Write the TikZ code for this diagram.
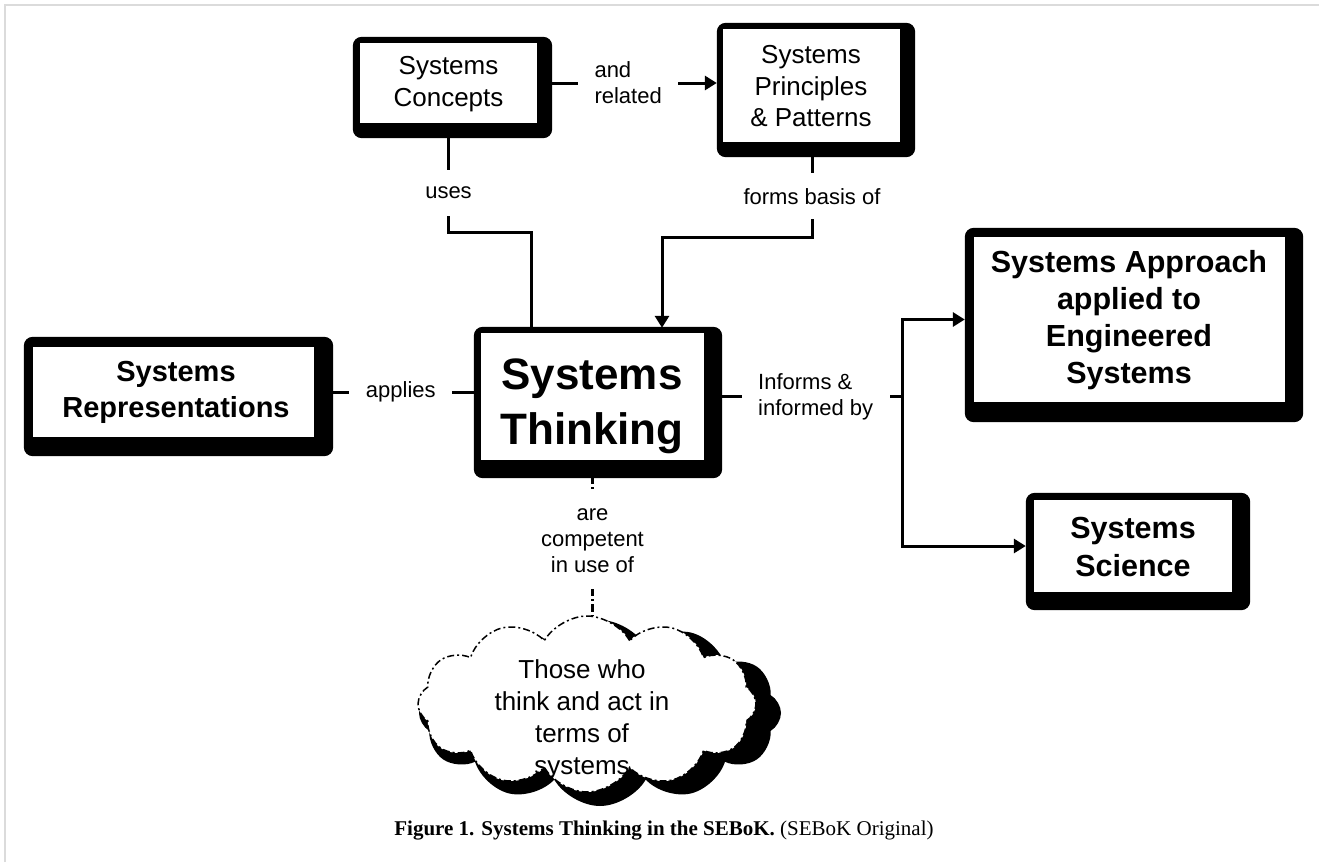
\documentclass[tikz,border=0pt]{standalone}
\usepackage{fontspec}
\setmainfont{Liberation Sans}
\newfontfamily\capfont{Liberation Serif}
\usetikzlibrary{arrows.meta,shapes.symbols,backgrounds,calc}
\begin{document}
\begin{tikzpicture}[x=1pt,y=-1pt,
  inbox/.style={rectangle, fill=white, draw=none, inner sep=0pt},
  boxshade/.style={fill=black, rounded corners=9pt},
  conn/.style={line width=3pt},
  arr/.style={conn, -{Triangle[width=14pt,length=12pt]}},
  lbl/.style={fill=white, font=\fontsize{22}{26}\selectfont, align=center, inner xsep=16.5pt, inner ysep=15pt},
  dd/.style={line width=2.5pt, dash pattern=on 8pt off 3pt on 2pt off 3pt},
  txtreg/.style={font=\fontsize{26}{31.5}\selectfont, align=center, inner sep=0pt},
  txtbold/.style 2 args={font=\bfseries\fontsize{#1}{#2}\selectfont, align=center, inner sep=0pt},
  cloudshape/.style={cloud, cloud puffs=12, cloud puff arc=120, cloud ignores aspect, inner sep=0pt}
]
\useasboundingbox (0,0) rectangle (1319,862);

% frame
\draw[gray!28, line width=1.5pt] (5,862) -- (5,5) -- (1319,5);

% boxes (white inner areas)
\node[inbox, minimum width=177pt, minimum height=80pt] (sc) at (448.5,83) {};
\node[inbox, minimum width=177pt, minimum height=113pt] (spp) at (811.5,85.5) {};
\node[inbox, minimum width=281pt, minimum height=90pt] (sr) at (173.5,392) {};
\node[inbox, minimum width=223pt, minimum height=127pt] (st) at (592.5,396.5) {};
\node[inbox, minimum width=311pt, minimum height=165pt] (sa) at (1129.5,319.5) {};
\node[inbox, minimum width=198pt, minimum height=92pt] (ss) at (1133,546) {};

% heavy frames behind the boxes
\begin{scope}[on background layer]
  \fill[white] (0,0) rectangle (1319,862);
  \fill[boxshade] ([xshift=-7pt,yshift=6pt]sc.north west) rectangle ([xshift=15pt,yshift=-15pt]sc.south east);
  \fill[boxshade] ([xshift=-6pt,yshift=6pt]spp.north west) rectangle ([xshift=15pt,yshift=-15pt]spp.south east);
  \fill[boxshade] ([xshift=-9pt,yshift=10pt]sr.north west) rectangle ([xshift=19pt,yshift=-19pt]sr.south east);
  \fill[boxshade] ([xshift=-7pt,yshift=6pt]st.north west) rectangle ([xshift=18pt,yshift=-18pt]st.south east);
  \fill[boxshade] ([xshift=-9pt,yshift=9pt]sa.north west) rectangle ([xshift=18pt,yshift=-20pt]sa.south east);
  \fill[boxshade] ([xshift=-8pt,yshift=7pt]ss.north west) rectangle ([xshift=18pt,yshift=-18pt]ss.south east);
\end{scope}

% box texts
\node[txtreg] (scT) at (448.5,84) {Systems\\Concepts};
\node[txtreg] (sppT) at (811,86.5) {Systems\\Principles\\\& Patterns};
\node[txtbold={29}{36}] (srT) at (176,392.5) {Systems\\Representations};
\node[txtbold={44}{55}] (stT) at (592,406.5) {Systems\\Thinking};
\node[txtbold={30.5}{37}] (saT) at (1129,320) {Systems Approach\\applied to\\Engineered\\Systems};
\node[txtbold={30.5}{38}] (ssT) at (1133,546.5) {Systems\\Science};

% cloud
\node[cloudshape, fill=black, minimum width=362pt, minimum height=186pt] (cloudshadow) at (600,713) {};
\node[cloudshape, fill=white, draw=black, line width=1.5pt, dash pattern=on 7pt off 3pt on 2pt off 3pt, minimum width=338pt, minimum height=176pt] (cloud) at (587,704) {};
\node[font=\fontsize{26}{32}\selectfont, align=center, inner sep=0pt] (cloudT) at (582,720) {Those who\\think and act in\\terms of\\systems};

% connectors
\draw[arr, shorten >=6pt] (sc.east) -- node[lbl, align=left, pos=0.49]{and\\related} (sc.east -| spp.west);
\draw[conn] (sc.south) -- node[lbl, inner ysep=17pt, pos=0.64]{uses} ++(0,109) -| ([xshift=-61.5pt]st.north);
\draw[arr, shorten >=5pt] ([xshift=0.5pt]spp.south) -- node[lbl, pos=0.57]{forms basis of} ++(0,95) -| ([xshift=69.5pt]st.north);
\draw[conn] (sr.east) -- node[lbl, pos=0.52]{applies} (sr.east -| st.west);

\coordinate (split) at ([xshift=198pt]st.east);
\draw[conn] (st.east) -- node[lbl, align=left, pos=0.563]{Informs \&\\informed by} (split);
\draw[arr, shorten >=9pt] (split) |- (sa.west);
\draw[arr, shorten >=8pt] (split) |- (ss.west);

\draw[dd] (st.south) -- node[lbl, inner ysep=17pt, pos=0.516]{are\\competent\\in use of} (st.south |- cloud.north);

% caption
\node[anchor=base, font=\capfont\fontsize{21}{25}\selectfont, inner sep=0pt] (cap) at (664,835) {\textbf{Figure 1. Systems Thinking in the SEBoK.} (SEBoK Original)};
\end{tikzpicture}
\end{document}
